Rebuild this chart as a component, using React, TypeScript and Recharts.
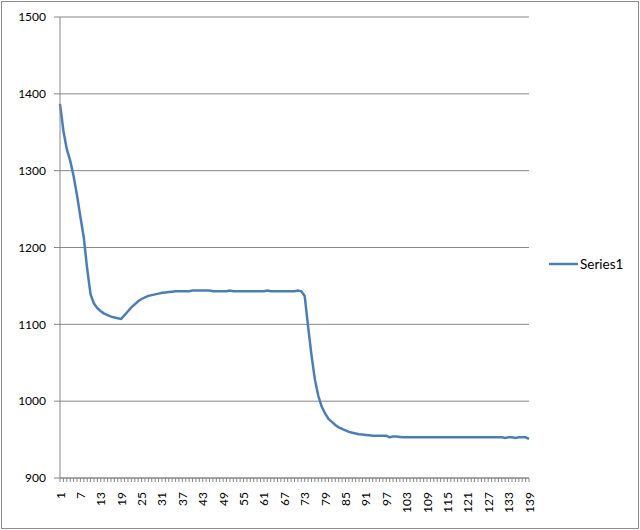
import React from "react";
import { LineChart, Line, XAxis, YAxis, CartesianGrid, Legend } from "recharts";

// Excel-style single series line chart, 139 points, y 900..1500
const SERIES_NAME = "Series1";

const SERIES1 = [
  1387, 1352, 1328, 1313, 1293, 1268, 1240, 1213, 1172, 1139,
  1127, 1121, 1117, 1114, 1112, 1110, 1109, 1108, 1107, 1112,
  1117, 1122, 1126, 1130, 1133, 1135, 1137, 1138, 1139, 1140,
  1141, 1141.5, 1142, 1142.5, 1143, 1143, 1143, 1143, 1143, 1144,
  1144, 1144, 1144, 1144, 1144, 1143, 1143, 1143, 1143, 1143,
  1144, 1143, 1143, 1143, 1143, 1143, 1143, 1143, 1143, 1143,
  1143, 1144, 1143, 1143, 1143, 1143, 1143, 1143, 1143, 1143,
  1144, 1143, 1137, 1097, 1060, 1028, 1007, 993, 984, 977,
  973, 969, 966, 964, 962, 960, 959, 958, 957, 956.5,
  956, 955.5, 955, 955, 955, 955, 955, 953, 954, 954,
  953.5, 953, 953, 953, 953, 953, 953, 953, 953, 953,
  953, 953, 953, 953, 953, 953, 953, 953, 953, 953,
  953, 953, 953, 953, 953, 953, 953, 953, 953, 953,
  953, 952, 953, 953, 952, 953, 953, 953, 951,
];

const CATEGORIES = SERIES1.map((_, i) => i + 1);
const Y_TICKS = [900, 1000, 1100, 1200, 1300, 1400, 1500];

const data = CATEGORIES.map((c, i) => ({ cat: c, value: SERIES1[i] }));

const FONT = "Lato, 'Open Sans', sans-serif";
const GRID = "#878787";
const BLUE = "#4a7ebb";

function XTick(props: any) {
  const { x, y, payload } = props;
  const v = payload.value;
  if ((v - 1) % 6 !== 0) return <g />;
  return (
    <text
      x={0}
      y={0}
      transform={`translate(${x},${y}) rotate(-90)`}
      textAnchor="end"
      dominantBaseline="central"
      fill="#000"
      fontSize={12}
      fontFamily={FONT}
    >
      {v}
    </text>
  );
}

function LegendBox() {
  return (
    <div style={{ display: "flex", alignItems: "center", fontFamily: FONT, fontSize: 13.5 }}>
      <svg width={30} height={6}>
        <line x1={0} y1={3} x2={29} y2={3} stroke={BLUE} strokeWidth={2.5} />
      </svg>
      <span style={{ marginLeft: 1 }}>{SERIES_NAME}</span>
    </div>
  );
}

export default function App() {
  return (
    <div style={{ position: "absolute", left: 0, top: 0, width: 640, height: 530, background: "#fff" }}>
      <LineChart
        width={640}
        height={530}
        data={data}
        margin={{ top: 17, right: 111, bottom: 0, left: 0 }}
      >
        <CartesianGrid vertical={false} stroke={GRID} strokeWidth={1} />
        <XAxis
          dataKey="cat"
          interval={0}
          height={52}
          tick={<XTick />}
          tickSize={4}
          tickMargin={10}
          tickLine={{ stroke: GRID }}
          axisLine={{ stroke: GRID }}
        />
        <YAxis
          domain={[900, 1500]}
          ticks={Y_TICKS}
          width={60}
          tickSize={6}
          tickMargin={8}
          tickLine={{ stroke: GRID }}
          axisLine={{ stroke: GRID }}
          tick={{ fill: "#000", fontSize: 12, fontFamily: FONT }}
        />
        <Legend
          layout="vertical"
          align="center"
          verticalAlign="middle"
          wrapperStyle={{ left: 549, top: 256, width: 90 }}
          content={<LegendBox />}
        />
        <Line
          type="linear"
          dataKey="value"
          name={SERIES_NAME}
          stroke={BLUE}
          strokeWidth={2.5}
          dot={false}
          isAnimationActive={false}
        />
      </LineChart>
      <div
        style={{
          position: "absolute",
          left: 1,
          top: 1,
          width: 638,
          height: 528,
          border: "1px solid #8c8c8c",
          boxSizing: "border-box",
          pointerEvents: "none",
        }}
      />
    </div>
  );
}
